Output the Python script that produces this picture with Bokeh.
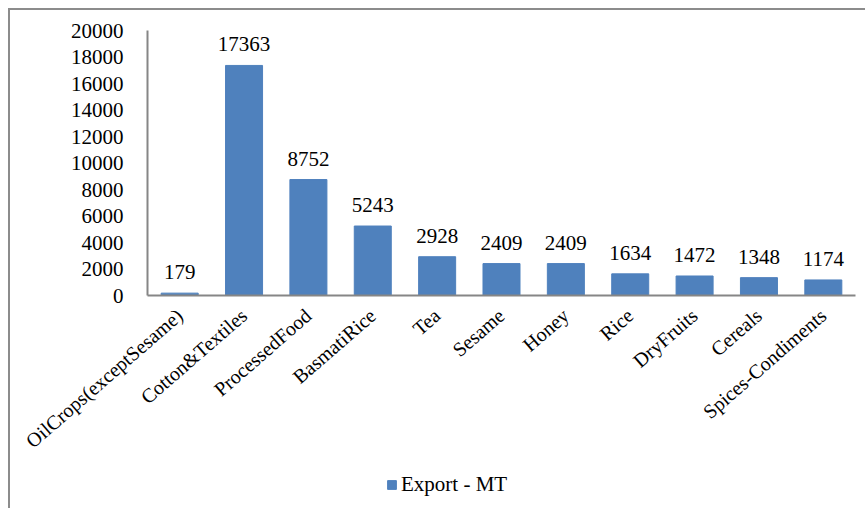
import math
from bokeh.plotting import figure
from bokeh.models import Range1d, FixedTicker, Legend, LegendItem, ColumnDataSource
from bokeh.core.properties import value
from bokeh.embed import file_html
from bokeh.resources import INLINE

categories = ["OilCrops(exceptSesame)", "Cotton&Textiles", "ProcessedFood", "BasmatiRice",
              "Tea", "Sesame", "Honey", "Rice", "DryFruits", "Cereals", "Spices-Condiments"]
export_mt = [179, 17363, 8752, 5243, 2928, 2409, 2409, 1634, 1472, 1348, 1174]
y_ticks = [0, 2000, 4000, 6000, 8000, 10000, 12000, 14000, 16000, 18000, 20000]
series_name = "Export - MT"

FONT = "Liberation Serif"
FS = "21px"
BAR = "#4F81BD"
AXIS = "#868686"

# page layout in pixels: canvas spans x 10..867, y 10..510
CX0, CX1, CY0, CY1 = 10, 867, 10, 510
X_AXIS_L, X_AXIS_R = 147, 855          # category band from left to right
Y_TOP, Y_ZERO = 30, 295                # value 20000 and 0
n = len(categories)
y_max = y_ticks[-1]
ux = (X_AXIS_R - X_AXIS_L) / n
uy = (Y_ZERO - Y_TOP) / y_max
x_range = Range1d(-(X_AXIS_L - CX0) / ux, n + (CX1 - X_AXIS_R) / ux)
y_range = Range1d(-(CY1 - Y_ZERO) / uy, y_max + (Y_TOP - CY0) / uy)

xpos = [i + 0.5 for i in range(n)]
src = ColumnDataSource(dict(x=xpos, val=export_mt, lab=[str(v) for v in export_mt]))

p = figure(width=CX1 - CX0, height=CY1 - CY0, x_range=x_range, y_range=y_range,
           output_backend="svg", toolbar_location=None,
           min_border_left=0, min_border_top=0, min_border_right=0, min_border_bottom=0)
p.margin = (8, 0, 0, 8)
p.outline_line_color = None
p.xgrid.visible = False
p.ygrid.visible = False
p.styles = {"border-top": "2px solid #8c8c8c", "border-left": "2px solid #8c8c8c"}

r = p.vbar(x="x", top="val", width=0.575, source=src, fill_color=BAR, line_color=BAR)

p.text(x="x", y="val", text="lab", source=src, text_align="center", text_baseline="alphabetic",
       y_offset=-21, text_font=value(FONT), text_font_size=FS, text_color="#000000")

p.yaxis.ticker = FixedTicker(ticks=y_ticks)
p.yaxis.bounds = (0, y_max)
p.yaxis.fixed_location = 0
p.xaxis.ticker = FixedTicker(ticks=xpos)
p.xaxis.major_label_overrides = {x: c for x, c in zip(xpos, categories)}
p.xaxis.bounds = (0, n)
p.xaxis.fixed_location = 0
for ax in (p.xaxis, p.yaxis):
    ax.axis_line_color = AXIS
    ax.axis_line_width = 2
    ax.major_tick_line_color = None
    ax.minor_tick_line_color = None
    ax.major_label_text_font = FONT
    ax.major_label_text_font_size = FS
    ax.major_label_text_color = "#000000"
p.xaxis.major_label_text_font_size = "20px"
p.yaxis.major_label_standoff = 18
p.xaxis.major_label_standoff = 11
p.xaxis.major_label_orientation = math.radians(41)

legend = Legend(items=[LegendItem(label=series_name, renderers=[r])], location=(376, 13),
                orientation="horizontal", border_line_color=None, background_fill_alpha=0,
                padding=0, margin=0, glyph_width=11, glyph_height=11, label_standoff=4,
                label_text_font=FONT, label_text_font_size=FS, label_text_color="#000000")
p.add_layout(legend, "center")

open("out.html", "w").write(file_html(p, INLINE))
